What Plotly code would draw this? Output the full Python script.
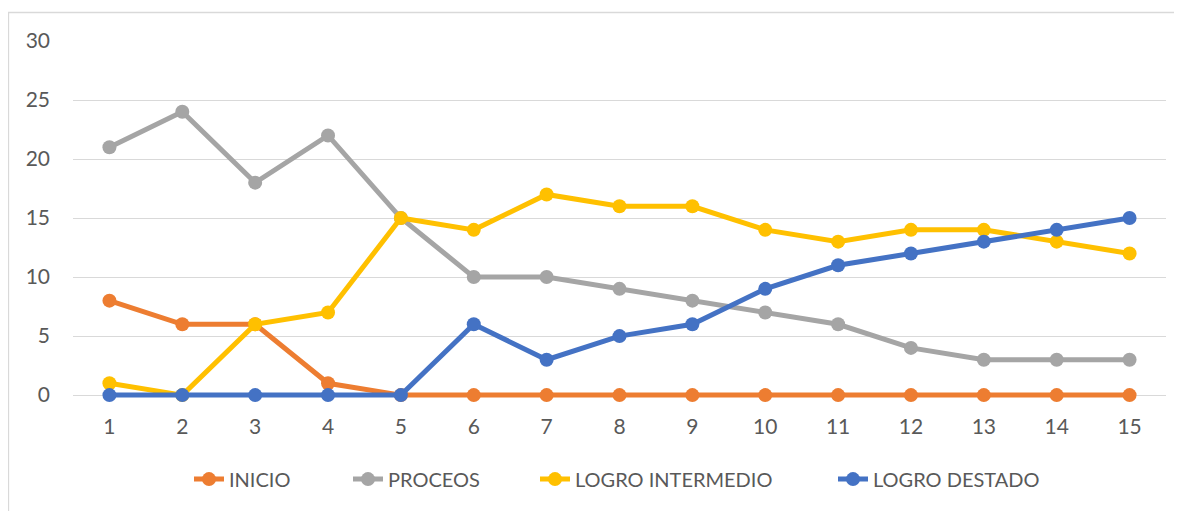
import plotly.graph_objects as go

categories = [str(i) for i in range(1, 16)]
inicio = [8, 6, 6, 1, 0, 0, 0, 0, 0, 0, 0, 0, 0, 0, 0]
proceos = [21, 24, 18, 22, 15, 10, 10, 9, 8, 7, 6, 4, 3, 3, 3]
logro_intermedio = [1, 0, 6, 7, 15, 14, 17, 16, 16, 14, 13, 14, 14, 13, 12]
logro_destado = [0, 0, 0, 0, 0, 6, 3, 5, 6, 9, 11, 12, 13, 14, 15]

series_names = ["INICIO", "PROCEOS", "LOGRO INTERMEDIO", "LOGRO DESTADO"]
series_values = [inicio, proceos, logro_intermedio, logro_destado]
series_colors = ["#ED7D31", "#A5A5A5", "#FFC000", "#4472C4"]

# page has an 8px body margin; figure is sized to fill the rest
W, H = 1174, 503
YMIN = -0.5
L, T, R = 65, 33, 16
unit = 354 / 30.0
B = 116 + YMIN * unit
pw, ph = W - L - R, H - T - B

legend_text_x = [229, 388, 575, 873]  # window px where legend text starts
legend_keys = ["legend", "legend2", "legend3", "legend4"]

fig = go.Figure()
for name, vals, col, lk in zip(series_names, series_values, series_colors, legend_keys):
    fig.add_trace(go.Scatter(
        x=categories, y=vals, name=name, mode="lines+markers",
        line=dict(color=col, width=5),
        marker=dict(color=col, size=14),
        cliponaxis=False, legend=lk,
    ))

font_family = "Lato, 'Open Sans', sans-serif"
legend_y = (H - B - (479 - 8)) / ph
legend_layout = {}
for lk, tx in zip(legend_keys, legend_text_x):
    fx = tx - 8 - 40 - L
    legend_layout[lk] = dict(orientation="h", x=fx / pw, xanchor="left", y=legend_y,
                             yanchor="middle", font=dict(size=20, color="#595959"),
                             itemwidth=30, bgcolor="rgba(0,0,0,0)", borderwidth=0)

fig.update_layout(
    width=W, height=H,
    margin=dict(l=L, r=R, t=T, b=B),
    paper_bgcolor="white", plot_bgcolor="white",
    font=dict(family=font_family, color="#595959", size=20),
    showlegend=True,
    xaxis=dict(type="category", showgrid=False, showline=False, zeroline=False,
               ticks="", tickfont=dict(size=21), ticklabelstandoff=int(round(17 + YMIN * unit)),
               range=[-0.5, 14.5]),
    yaxis=dict(range=[YMIN, 30], tickvals=[0, 5, 10, 15, 20, 25, 30],
               showgrid=True, gridcolor="#D9D9D9", gridwidth=1.3,
               zeroline=False, showline=False, ticks="", tickfont=dict(size=21),
               ticklabelstandoff=22),
    shapes=[dict(type="rect", xref="paper", yref="paper",
                 x0=(0.5 - L) / pw, x1=1.2, y0=-0.6, y1=(H - B - 4.5) / ph,
                 line=dict(color="#D9D9D9", width=1.3), layer="below")],
    **legend_layout,
)

fig.write_html("out.html")
